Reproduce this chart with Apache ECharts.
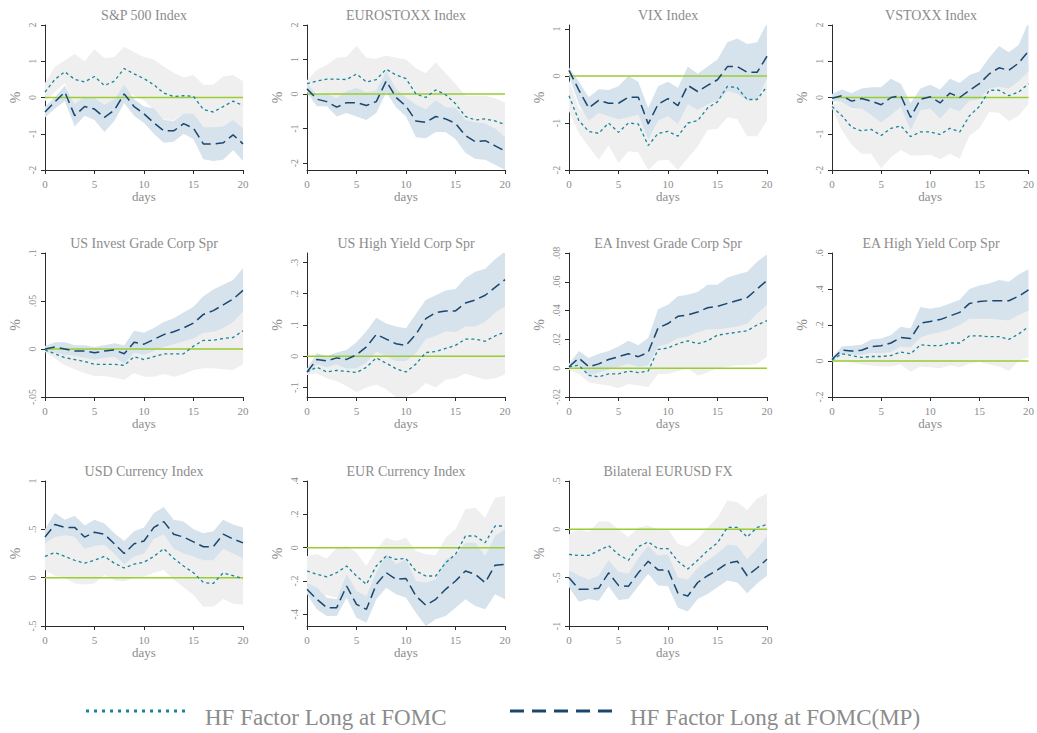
<!DOCTYPE html>
<html><head><meta charset="utf-8">
<script src="https://cdn.jsdelivr.net/npm/echarts@6/dist/echarts.min.js"></script>
<style>html,body{margin:0;padding:0;background:#fff}#c{width:1037px;height:733px}</style>
</head><body><div id="c"></div>
<script>
const days = [0,1,2,3,4,5,6,7,8,9,10,11,12,13,14,15,16,17,18,19,20];
const xTicks = [0,5,10,15,20];
const titles = ['S&P 500 Index','EUROSTOXX Index','VIX Index','VSTOXX Index','US Invest Grade Corp Spr','US High Yield Corp Spr','EA Invest Grade Corp Spr','EA High Yield Corp Spr','USD Currency Index','EUR Currency Index','Bilateral EURUSD FX'];
const legendNames = ['HF Factor Long at FOMC','HF Factor Long at FOMC(MP)'];

// S&P 500
const spx_hf    = [0.15,0.5,0.71,0.5,0.43,0.58,0.33,0.45,0.8,0.65,0.52,0.35,0.12,0.03,0.05,0.03,-0.33,-0.4,-0.25,-0.1,-0.22];
const spx_hf_hi = [0.4,0.85,1.02,1.2,1.0,1.33,1.08,1.12,1.4,1.25,1.12,1.05,0.85,0.68,0.55,0.62,0.35,0.35,0.58,0.62,0.45];
const spx_hf_lo = [-0.1,0.15,0.4,-0.2,-0.14,-0.17,-0.42,-0.22,0.2,0.05,-0.08,-0.35,-0.61,-0.62,-0.45,-0.56,-1.01,-1.15,-1.08,-0.82,-0.89];
const spx_mp    = [-0.4,-0.12,0.15,-0.5,-0.25,-0.32,-0.55,-0.35,0.1,-0.25,-0.45,-0.7,-0.92,-0.92,-0.72,-0.85,-1.28,-1.28,-1.25,-1.03,-1.28];
const spx_mp_hi = [-0.25,0.0,0.33,-0.18,0.02,-0.02,-0.2,-0.05,0.35,-0.05,-0.25,-0.3,-0.62,-0.65,-0.45,-0.45,-0.82,-0.82,-0.8,-0.62,-0.85];
const spx_mp_lo = [-0.55,-0.3,-0.1,-0.8,-0.5,-0.62,-0.95,-0.65,-0.15,-0.5,-0.7,-1.0,-1.25,-1.22,-1.0,-1.15,-1.7,-1.75,-1.72,-1.45,-1.75];
const spx_ticks = [-2,-1,0,1,2];

// EUROSTOXX
const sx5e_hf    = [0.3,0.38,0.43,0.43,0.42,0.58,0.35,0.42,0.72,0.55,0.45,0.0,-0.1,0.12,-0.02,-0.28,-0.65,-0.75,-0.72,-0.78,-0.88];
const sx5e_hf_hi = [0.4,0.7,0.85,1.05,1.08,1.4,1.05,1.02,1.12,1.05,1.0,0.75,0.6,0.92,0.6,0.3,-0.05,-0.05,-0.05,-0.12,-0.25];
const sx5e_hf_lo = [0.2,0.06,0.01,-0.19,-0.24,-0.24,-0.35,-0.18,0.32,0.05,-0.1,-0.75,-0.8,-0.68,-0.64,-0.86,-1.25,-1.45,-1.39,-1.44,-1.51];
const sx5e_mp    = [0.15,-0.15,-0.22,-0.38,-0.25,-0.25,-0.33,-0.22,0.38,-0.1,-0.35,-0.78,-0.82,-0.65,-0.72,-0.85,-1.2,-1.38,-1.35,-1.5,-1.65];
const sx5e_mp_hi = [0.3,0.0,0.0,-0.12,0.08,0.18,0.05,0.1,0.65,0.15,-0.1,-0.3,-0.45,-0.18,-0.38,-0.4,-0.75,-0.82,-0.85,-1.0,-1.25];
const sx5e_mp_lo = [0.05,-0.35,-0.35,-0.65,-0.55,-0.65,-0.75,-0.55,0.05,-0.38,-0.65,-1.25,-1.28,-1.1,-1.1,-1.3,-1.7,-1.88,-1.9,-2.05,-2.2];
const sx5e_ticks = [-2,-1,0,1,2];

// VIX
const vix_hf    = [-0.42,-0.95,-1.18,-1.22,-1.0,-1.2,-1.0,-1.02,-1.48,-1.22,-1.18,-1.28,-1.0,-0.95,-0.68,-0.55,-0.22,-0.25,-0.5,-0.5,-0.22];
const vix_hf_hi = [-0.09,-0.68,-0.86,-0.66,-0.52,-0.55,-0.4,-0.42,-0.96,-0.64,-0.58,-0.56,-0.25,-0.4,-0.21,0.02,0.44,0.42,0.28,0.28,0.51];
const vix_hf_lo = [-0.75,-1.22,-1.5,-1.78,-1.48,-1.85,-1.6,-1.62,-2.0,-1.8,-1.78,-2.0,-1.75,-1.5,-1.15,-1.12,-0.88,-0.92,-1.28,-1.28,-0.95];
const vix_mp    = [0.12,-0.3,-0.68,-0.52,-0.58,-0.58,-0.45,-0.45,-1.02,-0.6,-0.48,-0.63,-0.2,-0.33,-0.2,-0.08,0.2,0.2,0.08,0.08,0.42];
const vix_mp_hi = [0.18,-0.12,-0.45,-0.28,-0.3,-0.22,0.0,-0.12,-0.68,-0.22,-0.12,-0.25,0.2,0.05,0.2,0.35,0.72,0.8,0.68,0.72,1.12];
const vix_mp_lo = [0.0,-0.6,-0.95,-0.78,-0.85,-0.92,-0.88,-0.82,-1.35,-0.95,-0.85,-1.02,-0.6,-0.72,-0.6,-0.52,-0.32,-0.38,-0.52,-0.5,-0.05];
const vix_ticks = [-2,-1,0,1];

// VSTOXX
const v2x_hf    = [-0.25,-0.5,-0.82,-0.92,-0.88,-1.05,-0.85,-0.78,-1.08,-0.95,-0.95,-1.02,-0.85,-0.95,-0.5,-0.25,0.2,0.2,0.05,0.15,0.38];
const v2x_hf_hi = [-0.2,-0.1,-0.34,-0.29,-0.21,-0.15,-0.05,-0.11,-0.56,-0.3,-0.32,-0.34,-0.15,-0.22,0.05,0.35,0.8,0.82,0.75,0.8,0.94];
const v2x_hf_lo = [-0.3,-0.9,-1.3,-1.55,-1.55,-1.95,-1.65,-1.45,-1.6,-1.6,-1.58,-1.7,-1.55,-1.68,-1.05,-0.85,-0.4,-0.42,-0.65,-0.5,-0.18];
const v2x_mp    = [-0.02,0.05,-0.1,-0.03,-0.1,-0.2,0.0,0.05,-0.55,-0.05,0.02,-0.15,0.12,0.0,0.2,0.38,0.65,0.82,0.75,0.95,1.28];
const v2x_mp_hi = [0.1,0.22,0.12,0.25,0.28,0.28,0.52,0.38,-0.15,0.25,0.35,0.22,0.52,0.4,0.62,0.72,1.1,1.42,1.25,1.45,2.08];
const v2x_mp_lo = [-0.1,-0.12,-0.3,-0.3,-0.48,-0.68,-0.48,-0.25,-0.9,-0.35,-0.3,-0.58,-0.28,-0.38,-0.08,-0.05,0.25,0.3,0.25,0.45,0.72];
const v2x_ticks = [-2,-1,0,1,2];

// US Invest Grade
const usig_hf    = [-0.001,-0.005,-0.009,-0.011,-0.013,-0.016,-0.016,-0.016,-0.017,-0.008,-0.011,-0.008,-0.005,-0.005,-0.005,0.003,0.009,0.009,0.011,0.012,0.019];
const usig_hf_hi = [0.001,0.0,-0.001,-0.001,-0.001,-0.004,-0.004,-0.002,-0.002,0.009,0.007,0.013,0.016,0.019,0.016,0.028,0.038,0.038,0.043,0.046,0.054];
const usig_hf_lo = [-0.003,-0.01,-0.017,-0.021,-0.025,-0.028,-0.028,-0.03,-0.032,-0.025,-0.029,-0.029,-0.026,-0.029,-0.026,-0.022,-0.02,-0.02,-0.021,-0.022,-0.016];
const usig_mp    = [0.0,0.002,0.0,-0.002,-0.002,-0.004,-0.002,-0.001,-0.005,0.007,0.005,0.01,0.015,0.018,0.022,0.027,0.036,0.04,0.046,0.052,0.061];
const usig_mp_hi = [0.003,0.007,0.007,0.004,0.004,0.002,0.004,0.006,0.004,0.019,0.017,0.022,0.028,0.032,0.038,0.044,0.055,0.062,0.067,0.072,0.084];
const usig_mp_lo = [-0.003,-0.004,-0.006,-0.007,-0.009,-0.011,-0.009,-0.008,-0.015,-0.004,-0.006,-0.002,0.002,0.005,0.008,0.011,0.017,0.018,0.022,0.028,0.039];
const usig_ticks = [-0.05,0,0.05,0.1];

// US High Yield
const ushy_hf    = [-0.05,-0.035,-0.05,-0.045,-0.048,-0.052,-0.035,-0.005,-0.022,-0.04,-0.05,-0.025,0.012,0.015,0.025,0.035,0.055,0.055,0.048,0.065,0.078];
const ushy_hf_hi = [-0.04,-0.015,-0.03,-0.01,0.0,0.01,0.03,0.08,0.06,0.05,0.03,0.065,0.11,0.13,0.125,0.14,0.165,0.175,0.17,0.2,0.214];
const ushy_hf_lo = [-0.06,-0.055,-0.07,-0.08,-0.095,-0.115,-0.1,-0.09,-0.105,-0.13,-0.13,-0.115,-0.085,-0.1,-0.075,-0.07,-0.055,-0.065,-0.075,-0.07,-0.058];
const ushy_mp    = [-0.05,-0.01,-0.015,-0.005,-0.01,0.005,0.03,0.07,0.055,0.04,0.035,0.07,0.12,0.14,0.145,0.145,0.17,0.18,0.195,0.22,0.245];
const ushy_mp_hi = [-0.04,0.01,0.0,0.012,0.02,0.045,0.08,0.123,0.105,0.095,0.09,0.135,0.18,0.195,0.21,0.215,0.25,0.27,0.28,0.31,0.335];
const ushy_mp_lo = [-0.06,-0.025,-0.035,-0.025,-0.04,-0.038,-0.02,0.015,0.0,-0.015,-0.015,0.01,0.055,0.065,0.08,0.078,0.095,0.095,0.11,0.14,0.16];
const ushy_ticks = [-0.1,0,0.1,0.2,0.3];

// EA Invest Grade
const eaig_hf    = [0.001,0.002,-0.005,-0.006,-0.004,-0.004,-0.002,-0.003,-0.002,0.013,0.014,0.017,0.019,0.017,0.019,0.023,0.024,0.025,0.026,0.03,0.033];
const eaig_hf_hi = [0.003,0.008,0.0,-0.001,0.004,0.006,0.007,0.006,0.009,0.03,0.032,0.036,0.038,0.039,0.041,0.046,0.047,0.048,0.05,0.057,0.058];
const eaig_hf_lo = [-0.001,-0.004,-0.01,-0.011,-0.012,-0.014,-0.011,-0.012,-0.013,-0.004,-0.004,-0.002,0.0,-0.005,-0.003,0.0,0.001,0.002,0.002,0.003,0.008];
const eaig_mp    = [0.001,0.007,0.001,0.003,0.006,0.008,0.01,0.008,0.011,0.028,0.031,0.036,0.037,0.039,0.042,0.043,0.045,0.047,0.049,0.055,0.061];
const eaig_mp_hi = [0.003,0.012,0.007,0.01,0.012,0.015,0.019,0.016,0.021,0.041,0.044,0.05,0.051,0.053,0.058,0.058,0.063,0.065,0.067,0.074,0.079];
const eaig_mp_lo = [0.0,0.002,-0.005,-0.003,-0.001,0.001,0.003,0.001,0.002,0.015,0.017,0.021,0.022,0.025,0.027,0.027,0.028,0.029,0.031,0.038,0.044];
const eaig_ticks = [-0.02,0,0.02,0.04,0.06,0.08];

// EA High Yield
const eahy_hf    = [0.005,0.04,0.03,0.02,0.025,0.025,0.03,0.05,0.04,0.09,0.085,0.085,0.1,0.1,0.14,0.14,0.135,0.135,0.12,0.15,0.19];
const eahy_hf_hi = [0.01,0.08,0.07,0.06,0.075,0.08,0.09,0.12,0.14,0.21,0.205,0.21,0.225,0.235,0.295,0.285,0.29,0.3,0.295,0.3,0.36];
const eahy_hf_lo = [0.0,0.0,-0.01,-0.02,-0.025,-0.03,-0.03,-0.02,-0.06,-0.03,-0.035,-0.04,-0.025,-0.035,-0.015,-0.005,-0.02,-0.03,-0.055,0.0,0.02];
const eahy_mp    = [0.01,0.06,0.055,0.06,0.08,0.085,0.1,0.13,0.125,0.21,0.22,0.23,0.25,0.27,0.32,0.33,0.335,0.335,0.335,0.36,0.395];
const eahy_mp_hi = [0.02,0.08,0.085,0.09,0.12,0.125,0.145,0.19,0.18,0.3,0.29,0.3,0.32,0.34,0.4,0.42,0.43,0.45,0.44,0.48,0.51];
const eahy_mp_lo = [0.0,0.04,0.035,0.035,0.045,0.045,0.05,0.08,0.075,0.13,0.15,0.16,0.175,0.2,0.235,0.235,0.235,0.23,0.225,0.255,0.28];
const eahy_ticks = [-0.2,0,0.2,0.4,0.6];

// USD Currency
const usd_hf    = [0.22,0.26,0.22,0.18,0.15,0.18,0.22,0.15,0.1,0.14,0.16,0.22,0.3,0.2,0.12,0.05,-0.05,-0.06,0.05,0.02,-0.01];
const usd_hf_hi = [0.36,0.5,0.44,0.42,0.37,0.42,0.41,0.33,0.24,0.28,0.31,0.39,0.52,0.42,0.34,0.28,0.2,0.18,0.32,0.31,0.26];
const usd_hf_lo = [0.08,0.02,0.0,-0.06,-0.07,-0.06,0.03,-0.03,-0.04,0.0,0.01,0.05,0.08,-0.02,-0.1,-0.18,-0.3,-0.3,-0.22,-0.27,-0.28];
const usd_mp    = [0.42,0.55,0.52,0.52,0.42,0.47,0.45,0.35,0.25,0.35,0.38,0.52,0.58,0.45,0.42,0.37,0.32,0.32,0.45,0.4,0.36];
const usd_mp_hi = [0.5,0.67,0.6,0.64,0.54,0.6,0.56,0.46,0.38,0.48,0.52,0.67,0.73,0.6,0.58,0.5,0.46,0.48,0.6,0.55,0.52];
const usd_mp_lo = [0.36,0.42,0.44,0.42,0.3,0.33,0.34,0.25,0.14,0.22,0.25,0.4,0.45,0.3,0.25,0.22,0.18,0.18,0.3,0.25,0.2];
const usd_ticks = [-0.5,0,0.5,1];

// EUR Currency
const eur_hf    = [-0.14,-0.16,-0.175,-0.15,-0.11,-0.17,-0.22,-0.11,-0.05,-0.07,-0.065,-0.14,-0.17,-0.17,-0.09,-0.04,0.07,0.07,0.03,0.13,0.13];
const eur_hf_hi = [-0.05,-0.04,-0.065,0.0,0.01,-0.03,-0.11,-0.01,0.06,0.04,0.06,-0.02,-0.04,-0.045,0.06,0.11,0.23,0.24,0.18,0.3,0.31];
const eur_hf_lo = [-0.23,-0.28,-0.285,-0.3,-0.23,-0.31,-0.33,-0.21,-0.16,-0.18,-0.19,-0.26,-0.3,-0.295,-0.24,-0.19,-0.09,-0.1,-0.12,-0.04,-0.05];
const eur_mp    = [-0.25,-0.31,-0.36,-0.36,-0.23,-0.34,-0.37,-0.22,-0.15,-0.19,-0.185,-0.29,-0.345,-0.31,-0.25,-0.2,-0.14,-0.16,-0.21,-0.105,-0.1];
const eur_mp_hi = [-0.21,-0.24,-0.3,-0.31,-0.16,-0.26,-0.29,-0.15,-0.04,-0.1,-0.07,-0.2,-0.21,-0.19,-0.07,-0.05,0.03,0.03,-0.05,0.07,0.11];
const eur_mp_lo = [-0.28,-0.37,-0.41,-0.41,-0.3,-0.42,-0.45,-0.31,-0.24,-0.28,-0.3,-0.39,-0.47,-0.43,-0.41,-0.36,-0.31,-0.35,-0.37,-0.28,-0.31];
const eur_ticks = [-0.4,-0.2,0,0.2,0.4];

// Bilateral EURUSD
const eurusd_hf    = [-0.26,-0.27,-0.27,-0.22,-0.17,-0.26,-0.32,-0.18,-0.13,-0.2,-0.2,-0.33,-0.41,-0.32,-0.22,-0.14,0.02,0.02,-0.08,0.02,0.05];
const eurusd_hf_hi = [-0.05,0.0,-0.03,0.08,0.08,0.0,-0.08,0.02,0.04,0.0,0.0,-0.15,-0.18,-0.1,0.02,0.12,0.3,0.28,0.2,0.32,0.37];
const eurusd_hf_lo = [-0.47,-0.54,-0.51,-0.52,-0.42,-0.52,-0.56,-0.38,-0.3,-0.4,-0.4,-0.51,-0.64,-0.54,-0.46,-0.4,-0.26,-0.24,-0.36,-0.28,-0.27];
const eurusd_mp    = [-0.5,-0.62,-0.62,-0.61,-0.45,-0.58,-0.59,-0.45,-0.33,-0.42,-0.42,-0.66,-0.69,-0.55,-0.48,-0.42,-0.35,-0.33,-0.48,-0.4,-0.31];
const eurusd_mp_hi = [-0.42,-0.48,-0.52,-0.48,-0.32,-0.44,-0.46,-0.3,-0.17,-0.27,-0.26,-0.5,-0.52,-0.4,-0.32,-0.25,-0.16,-0.17,-0.31,-0.2,-0.07];
const eurusd_mp_lo = [-0.6,-0.75,-0.72,-0.74,-0.59,-0.73,-0.72,-0.59,-0.46,-0.58,-0.59,-0.81,-0.85,-0.72,-0.67,-0.6,-0.53,-0.55,-0.66,-0.56,-0.48];
const eurusd_ticks = [-1,-0.5,0,0.5];

// ---------- layout / style ----------
const panels = [
  {hf:spx_hf, hfHi:spx_hf_hi, hfLo:spx_hf_lo, mp:spx_mp, mpHi:spx_mp_hi, mpLo:spx_mp_lo, ticks:spx_ticks, min:-2, max:2},
  {hf:sx5e_hf, hfHi:sx5e_hf_hi, hfLo:sx5e_hf_lo, mp:sx5e_mp, mpHi:sx5e_mp_hi, mpLo:sx5e_mp_lo, ticks:sx5e_ticks, min:-2.2, max:2},
  {hf:vix_hf, hfHi:vix_hf_hi, hfLo:vix_hf_lo, mp:vix_mp, mpHi:vix_mp_hi, mpLo:vix_mp_lo, ticks:vix_ticks, min:-2, max:1.085},
  {hf:v2x_hf, hfHi:v2x_hf_hi, hfLo:v2x_hf_lo, mp:v2x_mp, mpHi:v2x_mp_hi, mpLo:v2x_mp_lo, ticks:v2x_ticks, min:-2, max:2},
  {hf:usig_hf, hfHi:usig_hf_hi, hfLo:usig_hf_lo, mp:usig_mp, mpHi:usig_mp_hi, mpLo:usig_mp_lo, ticks:usig_ticks, min:-0.05, max:0.1},
  {hf:ushy_hf, hfHi:ushy_hf_hi, hfLo:ushy_hf_lo, mp:ushy_mp, mpHi:ushy_mp_hi, mpLo:ushy_mp_lo, ticks:ushy_ticks, min:-0.13, max:0.33},
  {hf:eaig_hf, hfHi:eaig_hf_hi, hfLo:eaig_hf_lo, mp:eaig_mp, mpHi:eaig_mp_hi, mpLo:eaig_mp_lo, ticks:eaig_ticks, min:-0.02, max:0.08},
  {hf:eahy_hf, hfHi:eahy_hf_hi, hfLo:eahy_hf_lo, mp:eahy_mp, mpHi:eahy_mp_hi, mpLo:eahy_mp_lo, ticks:eahy_ticks, min:-0.2, max:0.6},
  {hf:usd_hf, hfHi:usd_hf_hi, hfLo:usd_hf_lo, mp:usd_mp, mpHi:usd_mp_hi, mpLo:usd_mp_lo, ticks:usd_ticks, min:-0.5, max:1},
  {hf:eur_hf, hfHi:eur_hf_hi, hfLo:eur_hf_lo, mp:eur_mp, mpHi:eur_mp_hi, mpLo:eur_mp_lo, ticks:eur_ticks, min:-0.47, max:0.4},
  {hf:eurusd_hf, hfHi:eurusd_hf_hi, hfLo:eurusd_hf_lo, mp:eurusd_mp, mpHi:eurusd_mp_hi, mpLo:eurusd_mp_lo, ticks:eurusd_ticks, min:-1, max:0.5}
];

const FONT = 'Liberation Serif, DejaVu Serif, serif';
const TXT = '#8c8c8c';
const AXIS = '#2b2b2b';
const GREY = '#efefef';
const BLUE = '#d6e2ec';
const TEAL = '#16859c';
const NAVY = '#1a476f';
const GREEN = '#9acd32';
const colLeft = [45, 307, 569, 832];
const rowTop = [25, 253, 481];
const rowH = [145, 144, 145];
const W = 198;

function pairs(arr){ return days.map((d,k)=>[d, arr[k]]); }
function fmt(v){
  let s = String(+(+v).toFixed(4));
  return s.replace(/^0\./,'.').replace(/^-0\./,'-.');
}
function band(i, lo, hi, color){
  return {
    type:'custom', xAxisIndex:i, yAxisIndex:i, silent:true, animation:false, clip:true,
    data: days.map((d,k)=>[d, lo[k], hi[k]]),
    encode:{x:0, y:[1,2]},
    renderItem:(params, api)=>{
      if (params.dataIndex !== 0) return null;
      const top = days.map((d,k)=>api.coord([d, hi[k]]));
      const bot = days.map((d,k)=>api.coord([d, lo[k]])).reverse();
      return {type:'polygon', shape:{points: top.concat(bot)}, style:{fill:color, stroke:null}};
    }
  };
}

const grid=[], xAxis=[], yAxis=[], series=[], graphic=[];
panels.forEach((p,i)=>{
  const r = Math.floor(i/4), c = i%4;
  grid.push({left:colLeft[c], top:rowTop[r], width:W, height:rowH[r], containLabel:false});
  xAxis.push({
    gridIndex:i, type:'value', min:0, max:20, interval:5,
    axisLine:{show:true, onZero:false, lineStyle:{color:AXIS, width:1}},
    axisTick:{show:true, length:4, lineStyle:{color:AXIS}},
    axisLabel:{color:TXT, fontSize:11, fontFamily:FONT, margin:8, customValues:xTicks},
    splitLine:{show:false},
    name:'days', nameLocation:'middle', nameGap:20,
    nameTextStyle:{color:TXT, fontSize:13, fontFamily:FONT}
  });
  yAxis.push({
    gridIndex:i, type:'value', min:p.min, max:p.max,
    axisLine:{show:true, onZero:false, lineStyle:{color:AXIS, width:1}},
    axisTick:{show:true, length:4, lineStyle:{color:AXIS}, customValues:p.ticks},
    axisLabel:{color:TXT, fontSize:10, fontFamily:FONT, rotate:90, margin:8, customValues:p.ticks, formatter:fmt},
    splitLine:{show:false},
    name:'%', nameLocation:'middle', nameGap:23, nameRotate:90,
    nameTextStyle:{color:TXT, fontSize:14, fontFamily:FONT}
  });
  const base = {type:'line', xAxisIndex:i, yAxisIndex:i, symbol:'none', silent:true, animation:false};
  series.push(band(i, p.hfLo, p.hfHi, GREY));
  series.push(band(i, p.mpLo, p.mpHi, BLUE));
  series.push({...base, data:[[0,0],[20,0]], lineStyle:{color:GREEN, width:1.5}});
  series.push({...base, name:legendNames[0], data:pairs(p.hf), lineStyle:{color:TEAL, width:1.3, type:[3,3]}});
  series.push({...base, name:legendNames[1], data:pairs(p.mp), lineStyle:{color:NAVY, width:1.5, type:[10,5]}});
  graphic.push({type:'text', x:colLeft[c]+W/2, y:rowTop[r]-10, silent:true,
    style:{text:titles[i], fill:TXT, fontSize:14, fontFamily:FONT, textAlign:'center', align:'center', textVerticalAlign:'middle', verticalAlign:'middle'}});
});

// legend
graphic.push({type:'line', silent:true, shape:{x1:86,y1:711,x2:186,y2:711}, style:{stroke:TEAL, lineWidth:3, lineDash:[3,5]}});
graphic.push({type:'text', x:205, y:717, silent:true, style:{text:legendNames[0], fill:TXT, fontSize:23, fontFamily:FONT, textVerticalAlign:'middle', verticalAlign:'middle'}});
graphic.push({type:'line', silent:true, shape:{x1:510,y1:711,x2:612,y2:711}, style:{stroke:NAVY, lineWidth:3, lineDash:[14,8]}});
graphic.push({type:'text', x:630, y:717, silent:true, style:{text:legendNames[1], fill:TXT, fontSize:23, fontFamily:FONT, textVerticalAlign:'middle', verticalAlign:'middle'}});

const chart = echarts.init(document.getElementById('c'), null, {renderer:'svg', width:1037, height:733});
chart.setOption({animation:false, backgroundColor:'#fff', grid, xAxis, yAxis, series, graphic});
</script>
</body></html>
